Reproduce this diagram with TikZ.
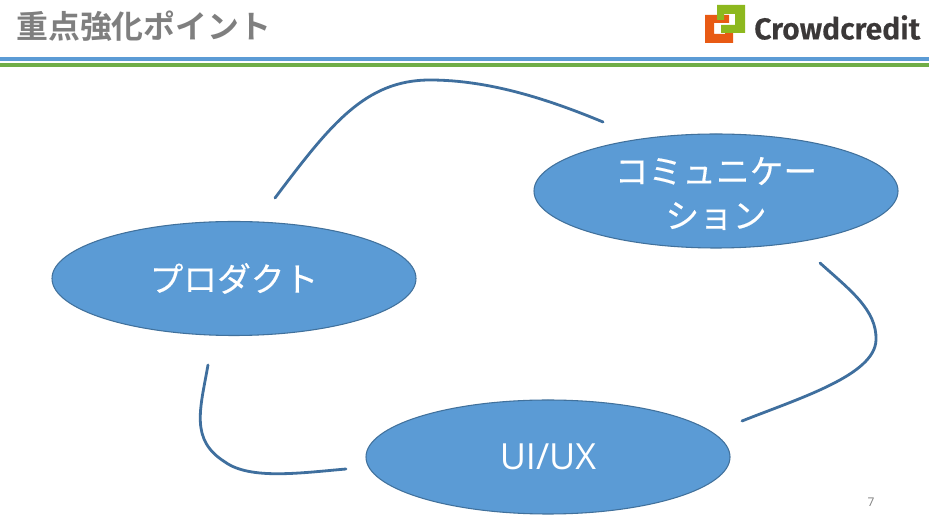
\documentclass[tikz,border=0pt]{standalone}
\usepackage{fontspec}
\setmainfont{Open Sans}
\newfontfamily\cjk[FakeBold=0.3]{Noto Sans CJK JP}
\newfontfamily\cjkb{Noto Sans CJK JP Bold}
\newfontfamily\logo[FakeBold=0.6]{Fira Sans SemiBold}
\definecolor{fillb}{HTML}{5B9BD5}
\definecolor{edgeb}{HTML}{41719C}
\definecolor{lineb}{HTML}{3F6F9E}
\definecolor{barg}{HTML}{70AD47}
\definecolor{titleg}{HTML}{7F7F7F}
\definecolor{logog}{HTML}{8DB81E}
\definecolor{logoo}{HTML}{E85A14}
\definecolor{logot}{HTML}{3B3838}
\usetikzlibrary{shapes.geometric}
\tikzset{
 px/.style={x=0.75pt,y=-0.75pt},
 blob/.style={ellipse,draw=edgeb,line width=0.8pt,fill=fillb,text=white,inner sep=0pt,minimum width=273pt,minimum height=85.5pt,align=center,font=\cjk\fontsize{25.3}{33.75}\selectfont},
 blobtext/.style={text=white,align=center,inner sep=0pt,font=\cjk\fontsize{25.3}{33.75}\selectfont},
 cyc/.style={draw=lineb,line width=2.1pt,line cap=round}
}
\begin{document}
\begin{tikzpicture}[px]
\useasboundingbox (0,0) rectangle (929,523);
\fill[white] (0,0) rectangle (929,523);
\node[anchor=west,text=titleg,inner sep=0pt,font=\cjkb\fontsize{23.9}{28}\selectfont] (title) at (16,26.5) {重点強化ポイント};
\fill[fillb] (0,57) rectangle (929,61);
\fill[barg] (0,63) rectangle (929,67);
% logo
\fill[logoo] (705,15) -- (729,15) -- (729,23) -- (714,23) -- (714,34) -- (725,34) -- (725,28) -- (733,28) -- (733,43) -- (705,43) -- cycle;
\fill[logog] (717,5) -- (745,5) -- (745,33) -- (721,33) -- (721,25) -- (735,25) -- (735,14) -- (724,14) -- (724,20) -- (717,20) -- cycle;
\node[anchor=west,text=logot,inner sep=0pt,font=\logo\fontsize{22.6}{26}\selectfont] (brand) at (754,27.5) {Crowdcredit};
% ellipses
\node[blob] (comm) at (716,191) {};
\node[blobtext] (commtext) at (716,193.5) {\raisebox{-0.5pt}{コミュニケー}\\ション};
\node[blob] (prod) at (234,278.5) {プロダクト};
\node[blob,font=\fontsize{27}{32}\selectfont] (ux) at (548,457) {UI/UX};
\coordinate (a1) at (275,198);
\coordinate (a2) at (603,122);
\coordinate (b1) at (820,263);
\coordinate (b2) at (742,421);
\coordinate (c1) at (346,469);
\coordinate (c2) at (208,365);
\draw[cyc] (a1) .. controls (330,125) and (365,80) .. (430,80) .. controls (490,80) and (550,100) .. (a2);
\draw[cyc] (b1) .. controls (850,290) and (877,310) .. (876,340) .. controls (875,375) and (800,398) .. (b2);
\draw[cyc] (c1) .. controls (300,473) and (250,480) .. (225,462) .. controls (190,440) and (200,410) .. (c2);
\node[text=titleg,inner sep=0pt,font=\fontsize{9}{11}\selectfont] (page) at (871,502) {7};
\end{tikzpicture}
\end{document}
